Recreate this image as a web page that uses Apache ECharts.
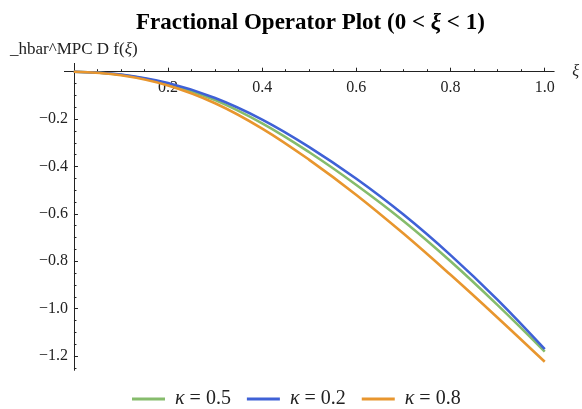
<!DOCTYPE html>
<html>
<head>
<meta charset="utf-8">
<script src="https://cdn.jsdelivr.net/npm/echarts@6/dist/echarts.min.js"></script>
<style>
  html, body { margin: 0; padding: 0; background: #fff; }
  #chart { width: 582px; height: 409px; }
</style>
</head>
<body>
<div id="chart"></div>
<script>
// 数据
var xs = [0, 0.1, 0.2, 0.3, 0.4, 0.5, 0.6, 0.7, 0.8, 0.9, 1.0]
var k05 = [0, -0.013, -0.052, -0.120, -0.218, -0.340, -0.478, -0.630, -0.800, -0.985, -1.181]
var k02 = [0, -0.012, -0.048, -0.111, -0.202, -0.318, -0.452, -0.603, -0.774, -0.963, -1.171]
var k08 = [0, -0.015, -0.058, -0.133, -0.240, -0.372, -0.520, -0.683, -0.857, -1.038, -1.224]
var names = ['κ = 0.5', 'κ = 0.2', 'κ = 0.8']
var xMajor = [0.2, 0.4, 0.6, 0.8, 1.0]
var xMinor = [0.05, 0.1, 0.15, 0.25, 0.3, 0.35, 0.45, 0.5, 0.55, 0.65, 0.7, 0.75, 0.85, 0.9, 0.95]
var yMajor = [-0.2, -0.4, -0.6, -0.8, -1.0, -1.2]
var yMinor = [-0.05, -0.1, -0.15, -0.25, -0.3, -0.35, -0.45, -0.5, -0.55, -0.65, -0.7, -0.75,
              -0.85, -0.9, -0.95, -1.05, -1.1, -1.15, -1.25]

var font = 'Liberation Serif'
var colors = ['#86bc6c', '#3f61d6', '#e8962e']

// 坐标范围 (轴线画在 0 处，用 offset 往里挪)
var xMin = -0.02, xMax = 1.02
var yMin = -1.26, yMax = 0.035
var gridL = 64.4, gridR = 20.5, gridT = 63.4, gridB = 38.7
var xOff = -(0 - xMin) / (xMax - xMin) * (582 - gridL - gridR)
var yOff = -(yMax - 0) / (yMax - yMin) * (409 - gridT - gridB)

function pairs(ys) {
    return xs.map(function(x, i) { return [x, ys[i]] })
}

var lineCol = '#222'

var option = {
    animation: false,
    title: [{
        text: '{b|Fractional Operator Plot (0 < }{bi|ξ}{b| < 1)}',
        left: 131,
        top: 7,
        textStyle: {
            rich: {
                b: { fontFamily: font, fontWeight: 'bold', fontSize: 23, color: '#000' },
                bi: { fontFamily: font, fontWeight: 'bold', fontStyle: 'italic', fontSize: 23, color: '#000' }
            }
        }
    }, {
        text: '{n|_hbar^MPC D f(}{i|ξ}{n|)}',
        left: 5,
        top: 36,
        textStyle: {
            fontWeight: 'normal',
            rich: {
                n: { fontFamily: font, fontWeight: 'normal', fontSize: 17, color: '#222' },
                i: { fontFamily: font, fontWeight: 'normal', fontStyle: 'italic', fontSize: 17, color: '#222' }
            }
        }
    }],
    color: colors,
    legend: {
        data: names,
        left: 132,
        bottom: 0,
        padding: 0,
        icon: 'rect',
        itemWidth: 33,
        itemHeight: 3,
        itemGap: 16,
        formatter: function(name) {
            return '{i|κ}{n|' + name.slice(1) + '}'
        },
        textStyle: {
            padding: [0, 0, 0, 5],
            rich: {
                i: { fontFamily: font, fontStyle: 'italic', fontSize: 20, color: '#222' },
                n: { fontFamily: font, fontSize: 20, color: '#222' }
            }
        }
    },
    grid: { left: gridL, right: gridR, top: gridT, bottom: gridB, containLabel: false },
    xAxis: [{
        type: 'value',
        position: 'top',
        offset: yOff,
        min: xMin,
        max: xMax,
        name: 'ξ',
        nameLocation: 'end',
        nameGap: 18,
        nameTextStyle: { fontFamily: font, fontStyle: 'italic', fontSize: 16, color: '#222', verticalAlign: 'middle' },
        axisLine: { onZero: false, lineStyle: { color: lineCol, width: 1 } },
        axisTick: { show: true, inside: false, length: 4, customValues: [0].concat(xMajor), lineStyle: { color: lineCol } },
        axisLabel: {
            inside: true,
            customValues: xMajor,
            margin: 8,
            fontFamily: font,
            fontSize: 16,
            color: '#222',
            formatter: function(v) { return v.toFixed(1) }
        },
        splitLine: { show: false }
    }, {
        type: 'value',
        position: 'top',
        offset: yOff,
        min: xMin,
        max: xMax,
        axisLine: { show: false, onZero: false },
        axisTick: { show: true, inside: false, length: 2.5, customValues: xMinor, lineStyle: { color: lineCol } },
        axisLabel: { show: false },
        splitLine: { show: false }
    }],
    yAxis: [{
        type: 'value',
        position: 'left',
        offset: xOff,
        min: yMin,
        max: yMax,
        axisLine: { show: true, onZero: false, lineStyle: { color: lineCol, width: 1 } },
        axisTick: { show: true, inside: true, length: 4, customValues: [0].concat(yMajor), lineStyle: { color: lineCol } },
        axisLabel: {
            customValues: yMajor,
            margin: 6,
            fontFamily: font,
            fontSize: 16,
            color: '#222',
            formatter: function(v) { return '\u2212' + Math.abs(v).toFixed(1) }
        },
        splitLine: { show: false }
    }, {
        type: 'value',
        position: 'left',
        offset: xOff,
        min: yMin,
        max: yMax,
        axisLine: { show: false, onZero: false },
        axisTick: { show: true, inside: true, length: 2.5, customValues: yMinor, lineStyle: { color: lineCol } },
        axisLabel: { show: false },
        splitLine: { show: false }
    }],
    series: [k05, k02, k08].map(function(ys, i) {
        return {
            name: names[i],
            type: 'line',
            xAxisIndex: 0,
            yAxisIndex: 0,
            smooth: 0.4,
            symbol: 'none',
            lineStyle: { width: 2.6, color: colors[i] },
            data: pairs(ys)
        }
    })
}

var chart = echarts.init(document.getElementById('chart'))
chart.setOption(option)
window.addEventListener('resize', function() { chart.resize() })
</script>
</body>
</html>
